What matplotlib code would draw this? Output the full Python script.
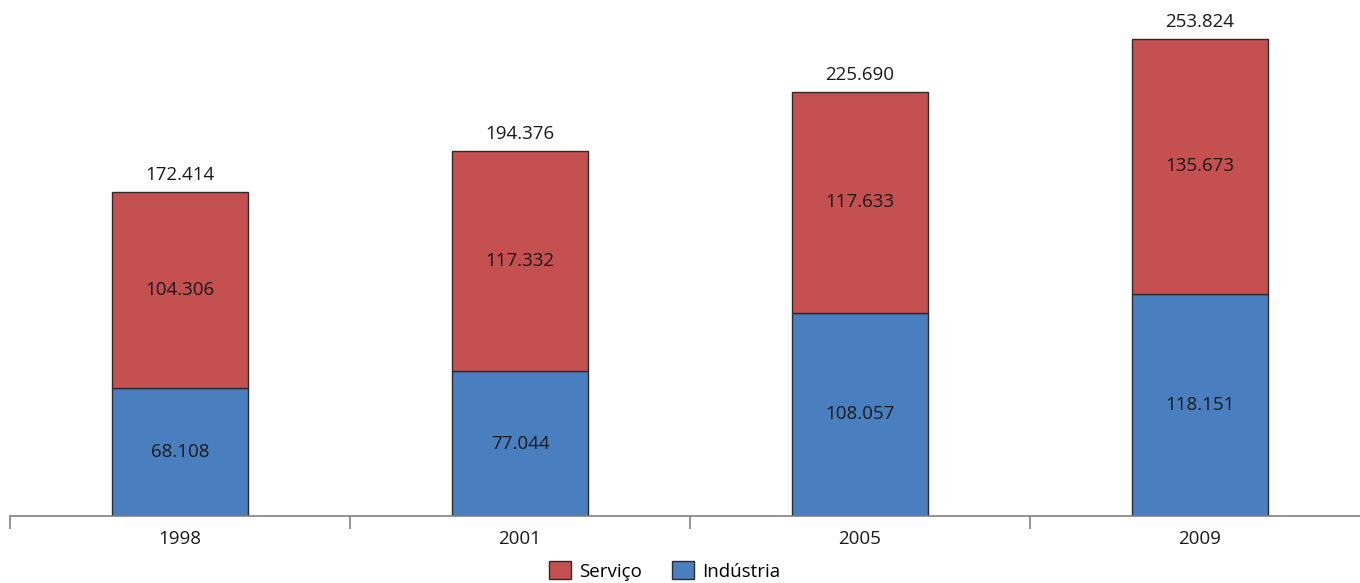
import matplotlib.pyplot as plt
from matplotlib.patches import Patch

plt.rcParams['font.family'] = ['Open Sans', 'DejaVu Sans']

anos = ['1998', '2001', '2005', '2009']
industria = [68108, 77044, 108057, 118151]
servico = [104306, 117332, 117633, 135673]
total = [172414, 194376, 225690, 253824]

cor_ind = '#4A7FBF'
cor_serv = '#C55050'
cor_txt = '#1a1a1a'
fs = 13.5


def fmt(v):
    return f'{v:,}'.replace(',', '.')


fig = plt.figure(figsize=(13.6, 5.83), dpi=100)
# axis spacing is 340 px per category, right end cut at the figure edge
ax = fig.add_axes([10 / 1360, 1 - 516 / 583, 1350 / 1360, 516 / 583])

x = range(len(anos))
ax.bar(x, industria, width=0.4, color=cor_ind, edgecolor='#2b2b2b', linewidth=1)
ax.bar(x, servico, width=0.4, bottom=industria, color=cor_serv,
       edgecolor='#2b2b2b', linewidth=1)

for i in x:
    ax.text(i, industria[i] / 2, fmt(industria[i]), ha='center', va='center',
            fontsize=fs, color=cor_txt)
    ax.text(i, industria[i] + servico[i] / 2, fmt(servico[i]), ha='center',
            va='center', fontsize=fs, color=cor_txt)
    ax.text(i, total[i] + 4000, fmt(total[i]), ha='center', va='bottom',
            fontsize=fs, color=cor_txt)

ax.set_xlim(-0.5, 3.5 - 10 / 340)
ax.set_ylim(0, 516 * 532.1)

for s in ['top', 'right', 'left']:
    ax.spines[s].set_visible(False)
ax.spines['bottom'].set_color('#808080')
ax.spines['bottom'].set_linewidth(1.2)
ax.set_yticks([])

ax.set_xticks(list(x))
ax.set_xticklabels(anos, fontsize=fs, color=cor_txt)
ax.tick_params(axis='x', which='major', length=0, pad=10)
ax.set_xticks([-0.5, 0.5, 1.5, 2.5], minor=True)
ax.tick_params(axis='x', which='minor', length=9, width=1.2, color='#808080',
               direction='out')

handles = [Patch(facecolor=cor_serv, edgecolor='#2b2b2b', label='Serviço'),
           Patch(facecolor=cor_ind, edgecolor='#2b2b2b', label='Indústria')]
fig.legend(handles=handles, loc='lower center', ncol=2, frameon=False,
           fontsize=fs, bbox_to_anchor=(0.4885, -0.025), handlelength=1.2,
           handleheight=1.1, handletextpad=0.4, columnspacing=1.6)

fig.savefig('out.png', dpi=100)
